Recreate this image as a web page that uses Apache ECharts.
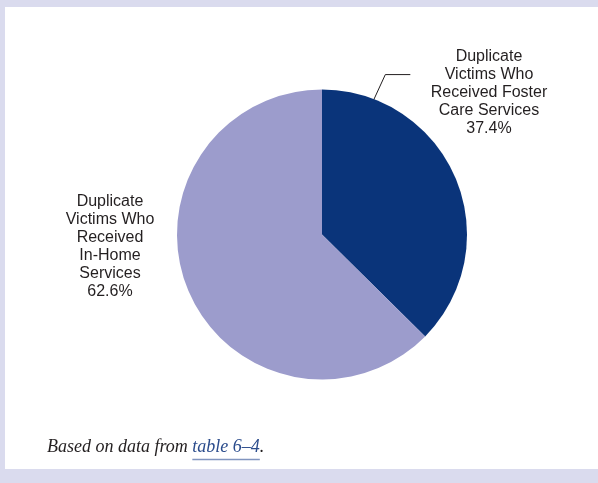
<!DOCTYPE html>
<html>
<head>
<meta charset="utf-8">
<script src="https://cdn.jsdelivr.net/npm/echarts@6/dist/echarts.min.js"></script>
<style>
  html, body { margin: 0; padding: 0; background: #dadbee; }
  #chart { width: 598px; height: 483px; }
</style>
</head>
<body>
<div id="chart"></div>
<script>
// Share of duplicate victims by type of post-response service
const categories = [
  'Duplicate\nVictims Who\nReceived Foster\nCare Services',
  'Duplicate\nVictims Who\nReceived\nIn-Home\nServices'
];
const percentages = [37.4, 62.6];
const sliceColors = ['#0a347a', '#9c9ccc'];
const noteParts = ['Based on data from ', 'table 6\u20134', '.'];

// Geometry of the pie (pixels)
const CX = 322, CY = 234.5, R = 145;
const labelFont = '"Liberation Sans", Arial, Helvetica, sans-serif';
const noteFont = '"Liberation Serif", "Times New Roman", serif';
const noteSize = 18;
const noteX = 47, noteY = 447;

// point on a circle around the pie centre, angle measured clockwise from 12 o'clock
function polar(deg, rad) {
  const a = deg * Math.PI / 180;
  return [CX + rad * Math.sin(a), CY - rad * Math.cos(a)];
}

// text widths for the footnote pieces
const ctx = document.createElement('canvas').getContext('2d');
ctx.font = 'italic ' + noteSize + 'px ' + noteFont;
const widths = noteParts.map(t => ctx.measureText(t).width);

const chart = echarts.init(document.getElementById('chart'), null, { renderer: 'canvas' });

const seriesData = categories.map((name, i) => ({
  name: name,
  value: percentages[i],
  itemStyle: { color: sliceColors[i] },
  labelLine: { show: i === 0 }
}));

chart.setOption({
  animation: false,
  graphic: [
    {
      type: 'rect', z: -10, silent: true,
      shape: { x: 5, y: 7, width: 593, height: 462 },
      style: { fill: '#ffffff' }
    },
    {
      type: 'text', silent: true,
      style: {
        x: noteX, y: noteY, text: noteParts[0],
        font: 'italic ' + noteSize + 'px ' + noteFont,
        fill: '#231f20', verticalAlign: 'middle'
      }
    },
    {
      type: 'text', silent: true,
      style: {
        x: noteX + widths[0], y: noteY, text: noteParts[1],
        font: 'italic ' + noteSize + 'px ' + noteFont,
        fill: '#2b4c8c', verticalAlign: 'middle'
      }
    },
    {
      type: 'line', silent: true,
      shape: { x1: noteX + widths[0], y1: noteY + 12.5, x2: noteX + widths[0] + widths[1], y2: noteY + 12.5 },
      style: { stroke: '#8195bf', lineWidth: 1.5 }
    },
    {
      type: 'text', silent: true,
      style: {
        x: noteX + widths[0] + widths[1], y: noteY, text: noteParts[2],
        font: 'italic ' + noteSize + 'px ' + noteFont,
        fill: '#231f20', verticalAlign: 'middle'
      }
    }
  ],
  series: [{
    type: 'pie',
    center: [CX, CY],
    radius: R,
    startAngle: 90,
    clockwise: true,
    avoidLabelOverlap: false,
    emphasis: { disabled: true },
    itemStyle: { borderWidth: 0 },
    label: {
      show: true,
      position: 'outside',
      color: '#231f20',
      fontFamily: labelFont,
      fontSize: 16,
      lineHeight: 18,
      formatter: p => p.name + '\n' + p.value + '%'
    },
    labelLine: {
      show: true,
      lineStyle: { color: '#231f20', width: 1 }
    },
    labelLayout: function (p) {
      if (p.dataIndex === 0) {
        const a = polar(21, R - 1);
        const b = polar(21.6, R + 27);
        const c = [b[0] + 25, b[1]];
        return {
          x: CX + 167, y: CY - 141.5,
          align: 'center', verticalAlign: 'middle',
          labelLinePoints: [a, b, c]
        };
      }
      return { x: CX - 212, y: CY + 12, align: 'center', verticalAlign: 'middle' };
    },
    data: seriesData
  }]
});
</script>
</body>
</html>
